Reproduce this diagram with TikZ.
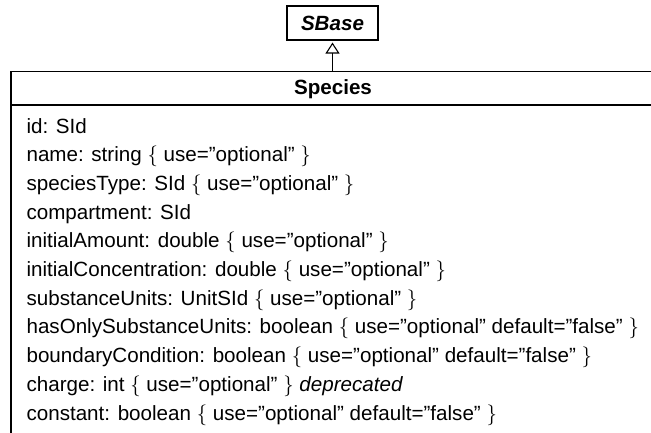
\documentclass[tikz,border=0pt]{standalone}
\usepackage{fontspec}
\setmainfont{Liberation Sans}
\usetikzlibrary{arrows.meta,positioning}

\newcommand{\attruse}[1]{$\{$\ #1\ $\}$}

\begin{document}
\begin{tikzpicture}[x=1pt,y=-1pt,line width=1.1pt,
    umlbox/.style={draw,inner sep=0pt,minimum width=91pt,minimum height=34pt},
    attrrow/.style={anchor=base west,inner sep=0pt}]
  \tikzset{every node/.style={font=\fontsize{20.6}{24}\selectfont}}
  \useasboundingbox (0,0) rectangle (651,432);
  \clip (0,0) rectangle (651,432);
  % parent class
  \node[umlbox] (sbase) at (332.5,23) {\textbf{\textit{SBase}}};
  % Species class, cut at the right and at the bottom
  \coordinate (spectl) at (11,71.5);
  \coordinate (spechd) at (11,105);
  \draw (11,440) -- (spectl) -- (660,71.5);
  \draw (spechd) -- (660,105);
  \node (species) at (333,89) {\textbf{Species}};
  \draw[-{Triangle[open,width=14pt,length=11pt]},shorten >=2pt]
    (sbase.south |- spectl) -- (sbase.south);
  % attributes
  \foreach \txt [count=\i] in {
      {id: SId},
      {name: string \attruse{use=”optional”}},
      {speciesType: SId \attruse{use=”optional”}},
      {compartment: SId},
      {initialAmount: double \attruse{use=”optional”}},
      {initialConcentration: double \attruse{use=”optional”}},
      {substanceUnits: UnitSId \attruse{use=”optional”}},
      {hasOnlySubstanceUnits: boolean \attruse{use=”optional” default=”false”}},
      {boundaryCondition: boolean \attruse{use=”optional” default=”false”}},
      {charge: int \attruse{use=”optional”} \textit{deprecated}},
      {constant: boolean \attruse{use=”optional” default=”false”}}}
    \node[attrrow] (row\i) at (26,{133+28.7*(\i-1)}) {\txt};
\end{tikzpicture}
\end{document}
